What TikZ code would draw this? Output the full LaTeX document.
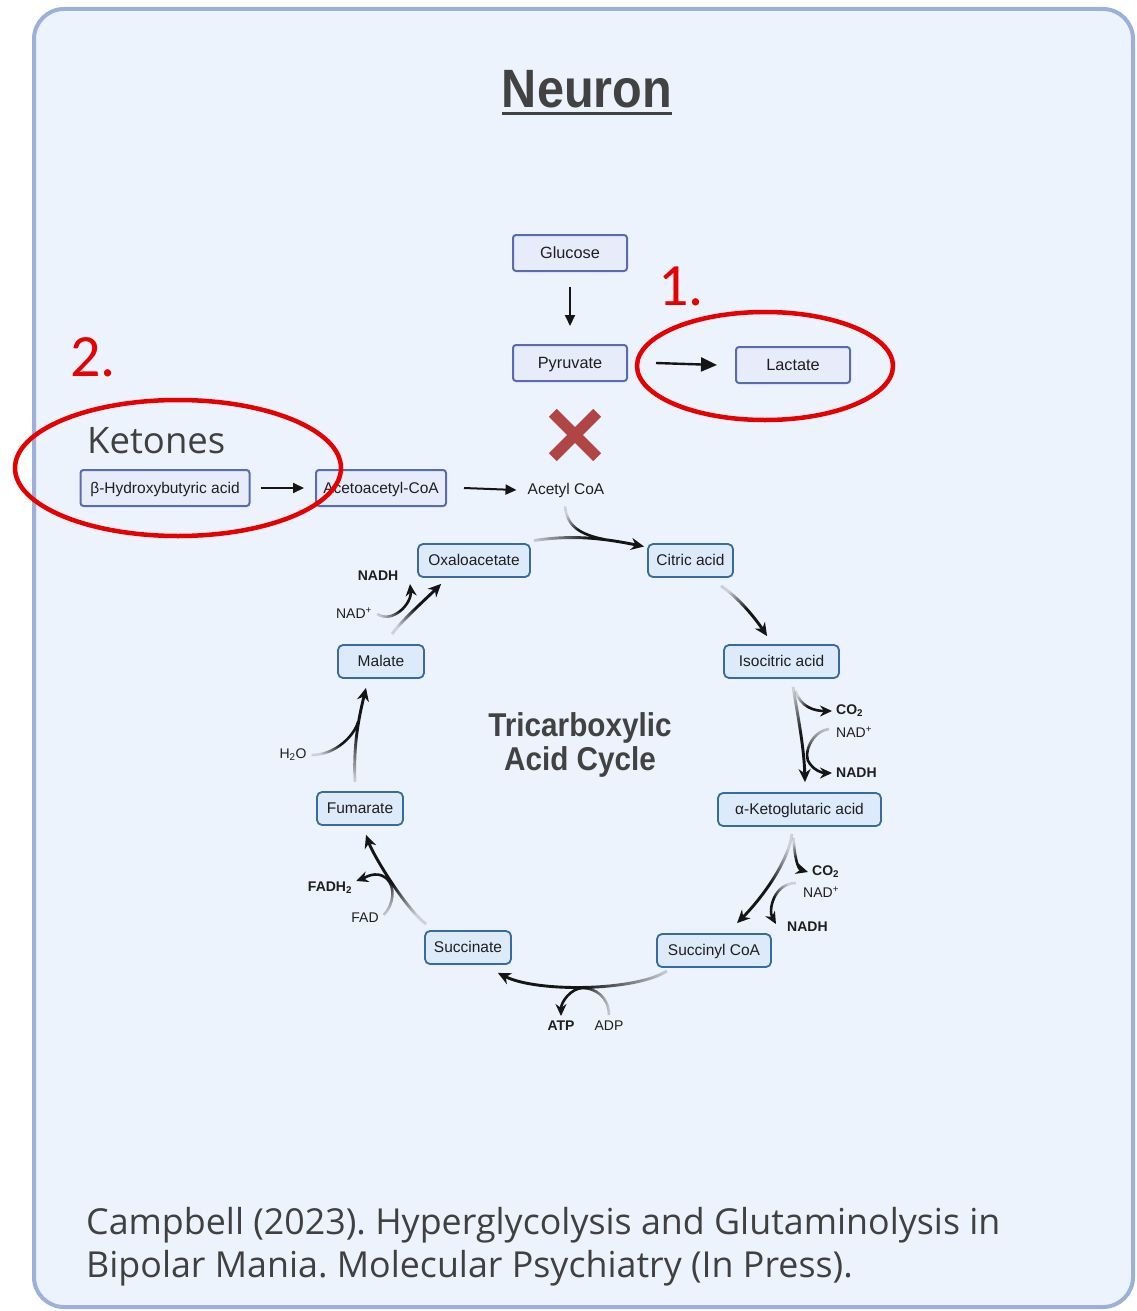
\documentclass[tikz,border=0pt]{standalone}
\usepackage{fontspec}
\setmainfont{Liberation Sans}
\newfontfamily\osfont{Open Sans}
\newfontfamily\calfont{Carlito}
\usetikzlibrary{arrows.meta,calc,fadings}
\definecolor{topfill}{HTML}{E7ECFA}
\definecolor{topedge}{HTML}{5A6BB0}
\definecolor{cycfill}{HTML}{DCEAF9}
\definecolor{cycedge}{HTML}{3A6B9E}
\definecolor{bgfill}{HTML}{EDF3FC}
\definecolor{bgedge}{HTML}{9CB0DA}
\definecolor{txt}{HTML}{1E1E1E}
\definecolor{arr}{HTML}{151515}
\definecolor{xred}{HTML}{B04545}
\definecolor{mark}{HTML}{E60000}
\definecolor{ttl}{HTML}{424242}
\tikzfading[name=fadein, left color=transparent!85, right color=transparent!0, middle color=transparent!0]
\frenchspacing
\begin{document}
\begin{tikzpicture}[x=1pt,y=-1pt,
  topbox/.style={draw=topedge, fill=topfill, line width=2pt, rounded corners=3pt,
    minimum height=36pt, minimum width=114pt, font=\fontsize{16.3}{18}\selectfont,
    text=txt, inner sep=0pt, text height=11.5pt, text depth=1pt},
  cycbox/.style={draw=cycedge, fill=cycfill, line width=1.8pt, rounded corners=5pt,
    minimum height=33pt, font=\fontsize{15.5}{18}\selectfont, text=txt, inner sep=0pt,
    text height=11pt, text depth=1pt},
  lbl/.style={font=\fontsize{14}{16}\selectfont, text=txt, inner sep=1pt},
  blbl/.style={lbl, font=\fontsize{14}{16}\selectfont\bfseries},
  flow/.style={line width=2.9pt, draw=arr, -{Stealth[length=13pt,width=12pt]}},
  side/.style={line width=2.6pt, draw=arr},
  sidea/.style={side, -{Stealth[length=12pt,width=11pt]}},
  fa/.style={path fading=fadein, fading angle=#1},
  toparr/.style={line width=2pt, draw=arr, -{Triangle[length=11pt,width=10pt]}},
  bigarr/.style={line width=2.4pt, draw=arr, -{Triangle[length=16pt,width=14pt]}},
  ring/.style={draw=mark, line width=4.5pt},
  redno/.style={text=mark, font=\calfont\fontsize{60}{60}\selectfont, inner sep=0pt}
]
\useasboundingbox (0,0) rectangle (1137,1311);
\fill[white] (0,0) rectangle (1137,1311);
\draw[line width=4pt, draw=bgedge, fill=bgfill, rounded corners=30pt] (34,9) rectangle (1133,1307);

% title
\node[text=ttl, font=\fontsize{54}{54}\selectfont\bfseries, inner sep=0pt, anchor=base] (title) at (587,108) {\scalebox{0.9}[1]{Neuron}};
\draw[ttl, line width=3pt] ([shift={(0,6)}]title.base west) -- ([shift={(0,6)}]title.base east);

% top pathway
\node[topbox] (glu) at (570,253) {Glucose};
\node[topbox] (pyr) at (570,363) {Pyruvate};
\node[topbox] (lac) at (793,365) {Lactate};
\node[topbox, minimum width=169pt, font=\fontsize{15.5}{18}\selectfont] (bhb) at (165,488) {β-Hydroxybutyric acid};
\node[topbox, minimum width=130pt, font=\fontsize{15.5}{18}\selectfont] (aca) at (381,488) {Acetoacetyl-CoA};
\node[font=\fontsize{15.5}{18}\selectfont, text=txt, inner sep=1pt] (acoa) at (566,490) {Acetyl CoA};
\node[font=\osfont\fontsize{36.5}{40}\selectfont, text=txt!85, anchor=base west, inner sep=0pt] (ket) at (87,453) {Ketones};

\draw[toparr] ([shift={(0,15)}]glu.south) -- ([shift={(0,-18)}]pyr.north);
\draw[bigarr] ([xshift=28]pyr.east) -- ([xshift=-18]lac.west);
\draw[toparr] ([xshift=10]bhb.east) -- ([xshift=-11]aca.west);
\draw[toparr] ([xshift=17]aca.east) -- ([xshift=-10]acoa.west);

% red cross
\node[inner sep=0pt, minimum size=44pt] (cross) at (575,435) {};
\draw[xred, line width=11pt] (cross.north west) -- (cross.south east);
\draw[xred, line width=11pt] (cross.north east) -- (cross.south west);

% cycle nodes
\node[cycbox, minimum width=112pt] (oxa) at (474,560.5) {Oxaloacetate};
\node[cycbox, minimum width=85pt] (cit) at (690.5,560.5) {Citric acid};
\node[cycbox, minimum width=115pt] (iso) at (781.5,661.5) {Isocitric acid};
\node[cycbox, minimum width=163pt] (akg) at (799.5,809.5) {α-Ketoglutaric acid};
\node[cycbox, minimum width=114pt] (scoa) at (714,950.5) {Succinyl CoA};
\node[cycbox, minimum width=86pt] (succ) at (468,947.5) {Succinate};
\node[cycbox, minimum width=86pt] (fum) at (360,808.5) {Fumarate};
\node[cycbox, minimum width=86pt] (mal) at (381,661.5) {Malate};

\node[text=ttl, font=\fontsize{33}{34}\selectfont\bfseries, align=center, inner sep=0pt] (tca) at (580,745) {\scalebox{0.9}[1]{Tricarboxylic}\\\scalebox{0.9}[1]{Acid Cycle}};

% side labels
\node[blbl, anchor=west] (co2a) at (835,711) {CO\textsubscript{2}};
\node[lbl, anchor=west] (nad1) at (835,732) {NAD\textsuperscript{+}};
\node[blbl, anchor=west] (nadh1) at (835,773) {NADH};
\node[blbl, anchor=west] (co2b) at (811,872) {CO\textsubscript{2}};
\node[lbl, anchor=west] (nad2) at (802,892) {NAD\textsuperscript{+}};
\node[blbl, anchor=west] (nadh2) at (786,927) {NADH};
\node[blbl] (atp) at (561,1026) {ATP};
\node[lbl] (adp) at (609,1026) {ADP};
\node[blbl] (fadh2) at (330,888) {FADH\textsubscript{2}};
\node[lbl] (fad) at (365,918) {FAD};
\node[lbl] (h2o) at (293,755) {H\textsubscript{2}O};
\node[lbl] (nadm) at (354,613) {NAD\textsuperscript{+}};
\node[blbl] (nadhm) at (378,576) {NADH};

% junction points
\coordinate (j1) at (605,539.5);
\coordinate (j5) at (583,988);
\coordinate (j7) at (358,722);

% cycle connectors
\draw[flow, fa=0] ([shift={(3,-20)}]oxa.east) .. controls +(40,-6) and +(-40,-8) .. ([shift={(-3,-14)}]cit.west);
\draw[side, fa=-40] ([shift={(-1,8)}]acoa.south) .. controls +(2,20) and +(-25,-5) .. (j1);
\draw[flow, fa=-47] ([shift={(-13,8)}]cit.south east) .. controls +(18,12) and +(-12,-18) .. ([shift={(44,-8)}]iso.north west);

\draw[flow, fa=-83] ([shift={(11.5,8)}]iso.south) .. controls +(5,30) and +(-1,-35) .. ([shift={(5.5,-10)}]akg.north);
\draw[sidea, fa=-30] ([shift={(14,12)}]iso.south) .. controls +(5,16) and +(-18,0) .. ([xshift=-3]co2a.west);
\draw[sidea, fa=-86] ([shift={(-6,-3)}]nad1.west) .. controls +(-18,2) and +(-8,-8) .. (810,764) .. controls +(4,6) and +(-10,0) .. ([xshift=-3]nadh1.west);

\draw[flow, fa=-121] ([shift={(-7.5,7)}]akg.south) .. controls +(-4,30) and +(22,-22) .. ([shift={(23,-10)}]scoa.north);
\draw[sidea, fa=-67] ([shift={(-6,11)}]akg.south) .. controls +(1,20) and +(-10,-3) .. ([xshift=-3]co2b.west);
\draw[sidea, fa=-116] ([shift={(-6,-9)}]nad2.west) .. controls +(-22,0) and +(-8,-14) .. ([shift={(-10,-3)}]nadh2.west);

\draw[flow, fa=180] ([shift={(-47,3)}]scoa.south) .. controls +(-30,20) and +(40,20) .. ([shift={(-14,8)}]succ.south east);
\draw[sidea, fa=180] ([shift={(0,-5)}]adp.north) .. controls +(0,-18) and +(12,0) .. (j5) .. controls +(-12,0) and +(0,-14) .. ([shift={(0,-4)}]atp.north);

\draw[flow, fa=124] ([shift={(2,-6)}]succ.north west) .. controls +(-20,-15) and +(8,22) .. ([shift={(6,9)}]fum.south);
\draw[sidea, fa=128] ([shift={(4,-3)}]fad.east) .. controls +(10,-10) and +(10,8) .. (386,878) .. controls +(-10,-8) and +(8,-3) .. ([shift={(3,-7)}]fadh2.east);

\draw[flow, fa=83] ([shift={(-5,-9)}]fum.north) .. controls +(-2,-40) and +(-6,25) .. ([shift={(-15,9)}]mal.south);
\draw[side, fa=35] ([xshift=4]h2o.east) .. controls +(25,0) and +(-3,12) .. (j7);

\draw[flow, fa=46] ([shift={(11,-10)}]mal.north) .. controls +(8,-12) and +(-12,12) .. ([shift={(24,6)}]oxa.south west);
\draw[sidea, fa=42] ([shift={(4,1)}]nadm.east) .. controls +(15,10) and +(2,20) .. ([shift={(32,2)}]nadhm.south);

% red annotations
\draw[ring] (765,366) ellipse [x radius=128, y radius=54];
\draw[ring] (178,468) ellipse [x radius=163, y radius=68];
\node[redno, anchor=base west] (one) at (658,305) {1.};
\node[redno, anchor=base west] (two) at (70,376) {2.};

% citation
\node[font=\osfont\fontsize{35.8}{43}\selectfont, text=txt!85, anchor=north west, align=left, inner sep=0pt] (cite) at (86,1207) {Campbell (2023). Hyperglycolysis and Glutaminolysis in\\Bipolar Mania. Molecular Psychiatry (In Press).};
\end{tikzpicture}
\end{document}
